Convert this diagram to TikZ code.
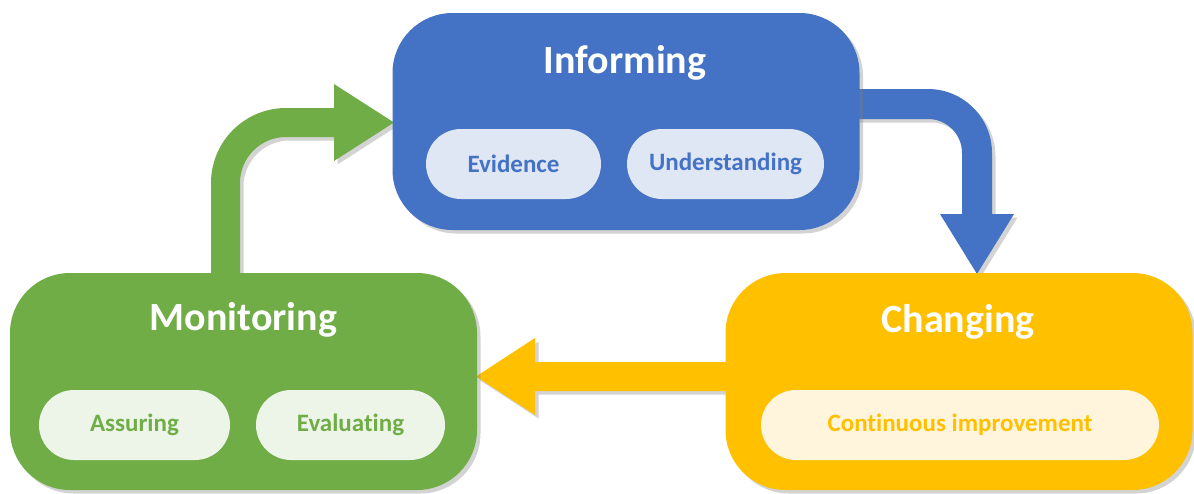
\documentclass[tikz,border=0pt]{standalone}
\usepackage{fontspec}
\setmainfont{Carlito}[Ligatures=NoCommon]
\usetikzlibrary{shadows}
\definecolor{cblue}{HTML}{4472C4}
\definecolor{cgreen}{HTML}{70AD47}
\definecolor{cgold}{HTML}{FFC000}
\definecolor{lblue}{HTML}{DFE6F4}
\definecolor{lgreen}{HTML}{EDF5E9}
\definecolor{lgold}{HTML}{FFF4DC}
\definecolor{shade}{HTML}{808080}
\tikzset{
  shad/.style={drop shadow={shadow xshift=3.5pt, shadow yshift=-3.5pt, opacity=0.35, fill=shade}},
  bigbox/.style={rectangle, rounded corners=60pt, minimum width=467pt, minimum height=217pt, inner sep=0pt, fill=#1, shad},
  title/.style={text=white, font=\bfseries\fontsize{40}{48}\selectfont, inner sep=0pt},
  pill/.style={rectangle, rounded corners=35pt, minimum height=70pt, inner sep=0pt, font=\bfseries\fontsize{25}{30}\selectfont},
  blockarrow/.style={fill=#1, shad}
}
\begin{document}
\begin{tikzpicture}[x=1pt,y=-1pt]
\useasboundingbox (0,0) rectangle (1194,493);
% arrows (behind boxes)
\fill[blockarrow=cgreen] (211,275) -- (211,183) .. controls (211,141.6) and (244.6,108) .. (286,108) -- (334,108) -- (334,84) -- (394,122.5) -- (334,161) -- (334,137) -- (286,137) .. controls (260.6,137) and (240,157.6) .. (240,183) -- (240,275) -- cycle;
\fill[blockarrow=cblue] (856,89) -- (928,89) .. controls (963.3,89) and (992,117.7) .. (992,153) -- (992,214) -- (1014,214) -- (977,274) -- (940,214) -- (962,214) -- (962,153) .. controls (962,134.2) and (946.8,119) .. (928,119) -- (856,119) -- cycle;
\fill[blockarrow=cgold] (730,362) -- (535,362) -- (535,338) -- (476,376.5) -- (535,415) -- (535,391) -- (730,391) -- cycle;
% boxes
\node[bigbox=cblue] (inf) at (626,121.5) {};
\node[bigbox=cgreen] (mon) at (243.5,381.5) {};
\node[bigbox=cgold] (chg) at (959,381.5) {};
% titles
\node[title] (inft) at (625,63) {Informing};
\node[title] (mont) at (243.5,320) {Monitoring};
\node[title] (chgt) at (958,322) {Changing};
% pills
\node[pill, fill=lblue, text=cblue, minimum width=175pt] (evi) at (513.5,164) {Evidence};
\node[pill, fill=lblue, text=cblue, minimum width=197pt] (und) at (725.5,164) {Understanding};
\node[pill, fill=lgreen, text=cgreen, minimum width=191pt] (ass) at (134.5,425) {Assuring};
\node[pill, fill=lgreen, text=cgreen, minimum width=189pt] (eva) at (350.5,425) {Evaluating};
\node[pill, fill=lgold, text=cgold, minimum width=398pt] (con) at (960,425) {Continuous improvement};
\end{tikzpicture}
\end{document}
